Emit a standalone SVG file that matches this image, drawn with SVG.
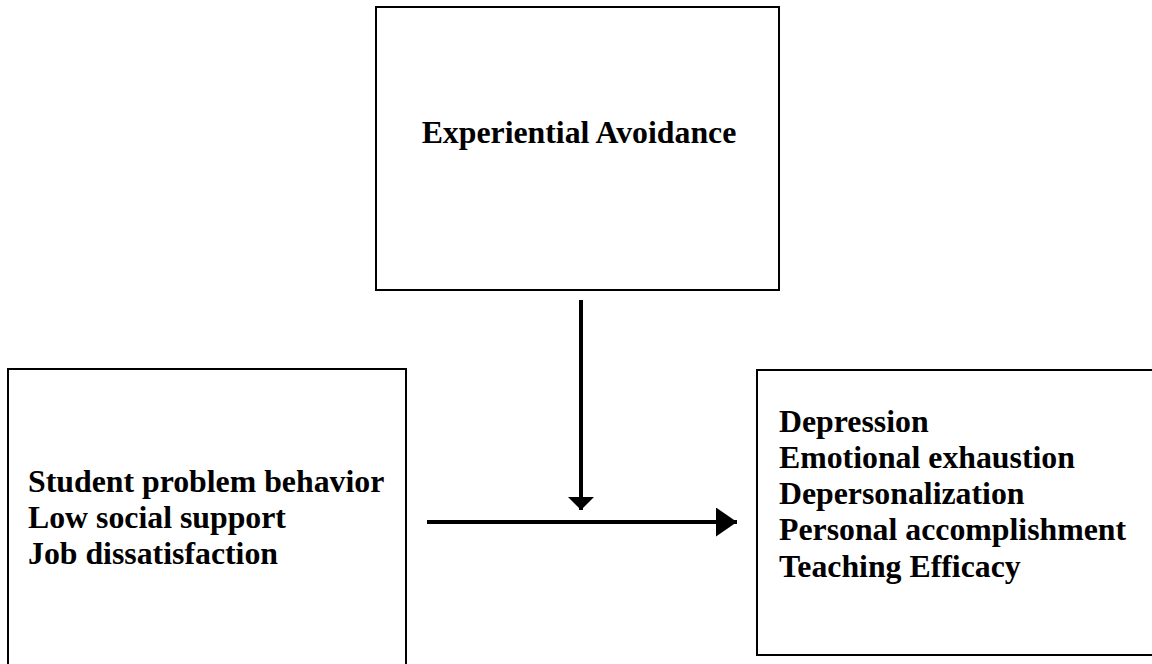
<svg xmlns="http://www.w3.org/2000/svg" width="1152" height="664" viewBox="0 0 1152 664">
<style>
.box{fill:#fff;stroke:#000;stroke-width:2}
.t{font-family:"Liberation Serif","Times New Roman",serif;font-weight:bold;font-size:31.8px;fill:#000}
.c{stroke:#000;fill:none;stroke-width:4}
</style>
<defs>
<marker id="ah" markerUnits="userSpaceOnUse" markerWidth="21" markerHeight="29" refX="21" refY="14.5" orient="auto">
<path d="M0,0 L21,14.5 L0,29 Z" fill="#000"/>
</marker>
<marker id="av" markerUnits="userSpaceOnUse" markerWidth="13" markerHeight="26" refX="13" refY="13" orient="auto">
<path d="M0,0 L13,13 L0,26 Z" fill="#000"/>
</marker>
</defs>
<rect width="1152" height="664" fill="#fff"/>
<g id="node-ea">
<rect class="box" x="376" y="7" width="403" height="283"/>
<text class="t" x="579" y="143" text-anchor="middle">Experiential Avoidance</text>
</g>
<g id="node-stressors">
<rect class="box" x="8" y="369" width="398" height="310"/>
<text class="t" x="28" y="492">Student problem behavior</text>
<text class="t" x="28" y="528">Low social support</text>
<text class="t" x="28" y="564">Job dissatisfaction</text>
</g>
<g id="node-outcomes">
<rect class="box" x="757" y="370" width="410" height="285"/>
<text class="t" x="779" y="432">Depression</text>
<text class="t" x="779" y="468">Emotional exhaustion</text>
<text class="t" x="779" y="504">Depersonalization</text>
<text class="t" x="779" y="540">Personal accomplishment</text>
<text class="t" x="779" y="577">Teaching Efficacy</text>
</g>
<g id="connectors">
<line class="c" x1="581" y1="300" x2="581" y2="510" marker-end="url(#av)"/>
<line class="c" x1="427" y1="522" x2="737" y2="522" marker-end="url(#ah)"/>
</g>
</svg>
